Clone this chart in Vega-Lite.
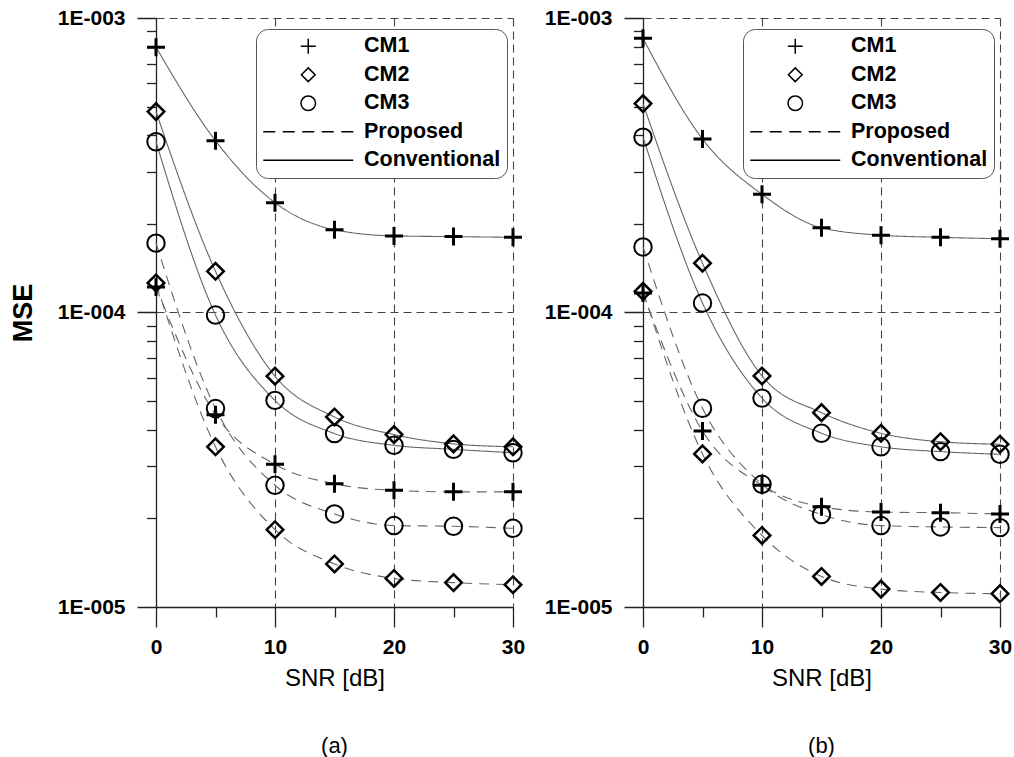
{
  "$schema": "https://vega.github.io/schema/vega-lite/v6.json",
  "padding": {"left": 9, "top": 7, "right": 0, "bottom": 0},
  "background": "white",
  "data": {"values": [
    {"p":"a","m":"Conventional","cm":"CM1","snr":0,"mse":7.96e-4},
    {"p":"a","m":"Conventional","cm":"CM1","snr":5,"mse":3.83e-4},
    {"p":"a","m":"Conventional","cm":"CM1","snr":10,"mse":2.36e-4},
    {"p":"a","m":"Conventional","cm":"CM1","snr":15,"mse":1.91e-4},
    {"p":"a","m":"Conventional","cm":"CM1","snr":20,"mse":1.82e-4},
    {"p":"a","m":"Conventional","cm":"CM1","snr":25,"mse":1.81e-4},
    {"p":"a","m":"Conventional","cm":"CM1","snr":30,"mse":1.80e-4},
    {"p":"a","m":"Conventional","cm":"CM2","snr":0,"mse":4.81e-4},
    {"p":"a","m":"Conventional","cm":"CM2","snr":5,"mse":1.38e-4},
    {"p":"a","m":"Conventional","cm":"CM2","snr":10,"mse":6.08e-5},
    {"p":"a","m":"Conventional","cm":"CM2","snr":15,"mse":4.42e-5},
    {"p":"a","m":"Conventional","cm":"CM2","snr":20,"mse":3.85e-5},
    {"p":"a","m":"Conventional","cm":"CM2","snr":25,"mse":3.58e-5},
    {"p":"a","m":"Conventional","cm":"CM2","snr":30,"mse":3.50e-5},
    {"p":"a","m":"Conventional","cm":"CM3","snr":0,"mse":3.80e-4},
    {"p":"a","m":"Conventional","cm":"CM3","snr":5,"mse":9.8e-5},
    {"p":"a","m":"Conventional","cm":"CM3","snr":10,"mse":5.03e-5},
    {"p":"a","m":"Conventional","cm":"CM3","snr":15,"mse":3.88e-5},
    {"p":"a","m":"Conventional","cm":"CM3","snr":20,"mse":3.54e-5},
    {"p":"a","m":"Conventional","cm":"CM3","snr":25,"mse":3.43e-5},
    {"p":"a","m":"Conventional","cm":"CM3","snr":30,"mse":3.34e-5},
    {"p":"a","m":"Proposed","cm":"CM1","snr":0,"mse":1.22e-4},
    {"p":"a","m":"Proposed","cm":"CM1","snr":5,"mse":4.5e-5},
    {"p":"a","m":"Proposed","cm":"CM1","snr":10,"mse":3.05e-5},
    {"p":"a","m":"Proposed","cm":"CM1","snr":15,"mse":2.62e-5},
    {"p":"a","m":"Proposed","cm":"CM1","snr":20,"mse":2.49e-5},
    {"p":"a","m":"Proposed","cm":"CM1","snr":25,"mse":2.46e-5},
    {"p":"a","m":"Proposed","cm":"CM1","snr":30,"mse":2.46e-5},
    {"p":"a","m":"Proposed","cm":"CM2","snr":0,"mse":1.26e-4},
    {"p":"a","m":"Proposed","cm":"CM2","snr":5,"mse":3.50e-5},
    {"p":"a","m":"Proposed","cm":"CM2","snr":10,"mse":1.83e-5},
    {"p":"a","m":"Proposed","cm":"CM2","snr":15,"mse":1.40e-5},
    {"p":"a","m":"Proposed","cm":"CM2","snr":20,"mse":1.25e-5},
    {"p":"a","m":"Proposed","cm":"CM2","snr":25,"mse":1.21e-5},
    {"p":"a","m":"Proposed","cm":"CM2","snr":30,"mse":1.19e-5},
    {"p":"a","m":"Proposed","cm":"CM3","snr":0,"mse":1.72e-4},
    {"p":"a","m":"Proposed","cm":"CM3","snr":5,"mse":4.72e-5},
    {"p":"a","m":"Proposed","cm":"CM3","snr":10,"mse":2.59e-5},
    {"p":"a","m":"Proposed","cm":"CM3","snr":15,"mse":2.07e-5},
    {"p":"a","m":"Proposed","cm":"CM3","snr":20,"mse":1.89e-5},
    {"p":"a","m":"Proposed","cm":"CM3","snr":25,"mse":1.88e-5},
    {"p":"a","m":"Proposed","cm":"CM3","snr":30,"mse":1.85e-5},
    {"p":"b","m":"Conventional","cm":"CM1","snr":0,"mse":8.53e-4},
    {"p":"b","m":"Conventional","cm":"CM1","snr":5,"mse":3.88e-4},
    {"p":"b","m":"Conventional","cm":"CM1","snr":10,"mse":2.52e-4},
    {"p":"b","m":"Conventional","cm":"CM1","snr":15,"mse":1.94e-4},
    {"p":"b","m":"Conventional","cm":"CM1","snr":20,"mse":1.83e-4},
    {"p":"b","m":"Conventional","cm":"CM1","snr":25,"mse":1.80e-4},
    {"p":"b","m":"Conventional","cm":"CM1","snr":30,"mse":1.78e-4},
    {"p":"b","m":"Conventional","cm":"CM2","snr":0,"mse":5.12e-4},
    {"p":"b","m":"Conventional","cm":"CM2","snr":5,"mse":1.47e-4},
    {"p":"b","m":"Conventional","cm":"CM2","snr":10,"mse":6.09e-5},
    {"p":"b","m":"Conventional","cm":"CM2","snr":15,"mse":4.57e-5},
    {"p":"b","m":"Conventional","cm":"CM2","snr":20,"mse":3.89e-5},
    {"p":"b","m":"Conventional","cm":"CM2","snr":25,"mse":3.64e-5},
    {"p":"b","m":"Conventional","cm":"CM2","snr":30,"mse":3.57e-5},
    {"p":"b","m":"Conventional","cm":"CM3","snr":0,"mse":3.94e-4},
    {"p":"b","m":"Conventional","cm":"CM3","snr":5,"mse":1.077e-4},
    {"p":"b","m":"Conventional","cm":"CM3","snr":10,"mse":5.12e-5},
    {"p":"b","m":"Conventional","cm":"CM3","snr":15,"mse":3.89e-5},
    {"p":"b","m":"Conventional","cm":"CM3","snr":20,"mse":3.50e-5},
    {"p":"b","m":"Conventional","cm":"CM3","snr":25,"mse":3.37e-5},
    {"p":"b","m":"Conventional","cm":"CM3","snr":30,"mse":3.30e-5},
    {"p":"b","m":"Proposed","cm":"CM1","snr":0,"mse":1.165e-4},
    {"p":"b","m":"Proposed","cm":"CM1","snr":5,"mse":3.96e-5},
    {"p":"b","m":"Proposed","cm":"CM1","snr":10,"mse":2.59e-5},
    {"p":"b","m":"Proposed","cm":"CM1","snr":15,"mse":2.19e-5},
    {"p":"b","m":"Proposed","cm":"CM1","snr":20,"mse":2.10e-5},
    {"p":"b","m":"Proposed","cm":"CM1","snr":25,"mse":2.09e-5},
    {"p":"b","m":"Proposed","cm":"CM1","snr":30,"mse":2.07e-5},
    {"p":"b","m":"Proposed","cm":"CM2","snr":0,"mse":1.18e-4},
    {"p":"b","m":"Proposed","cm":"CM2","snr":5,"mse":3.31e-5},
    {"p":"b","m":"Proposed","cm":"CM2","snr":10,"mse":1.75e-5},
    {"p":"b","m":"Proposed","cm":"CM2","snr":15,"mse":1.27e-5},
    {"p":"b","m":"Proposed","cm":"CM2","snr":20,"mse":1.15e-5},
    {"p":"b","m":"Proposed","cm":"CM2","snr":25,"mse":1.12e-5},
    {"p":"b","m":"Proposed","cm":"CM2","snr":30,"mse":1.11e-5},
    {"p":"b","m":"Proposed","cm":"CM3","snr":0,"mse":1.67e-4},
    {"p":"b","m":"Proposed","cm":"CM3","snr":5,"mse":4.73e-5},
    {"p":"b","m":"Proposed","cm":"CM3","snr":10,"mse":2.61e-5},
    {"p":"b","m":"Proposed","cm":"CM3","snr":15,"mse":2.06e-5},
    {"p":"b","m":"Proposed","cm":"CM3","snr":20,"mse":1.89e-5},
    {"p":"b","m":"Proposed","cm":"CM3","snr":25,"mse":1.87e-5},
    {"p":"b","m":"Proposed","cm":"CM3","snr":30,"mse":1.86e-5}
  ]},
  "spacing": 16,
  "hconcat": [
    {
      "width": 357, "height": 589,
      "transform": [{"filter": "datum.p === 'a'"}],
      "title": {"text": "(a)", "orient": "bottom", "frame": "group", "anchor": "middle", "font": "Liberation Sans", "fontSize": 22, "fontWeight": "normal", "color": "black", "offset": 45.5},
      "encoding": {
        "x": {"field": "snr", "type": "quantitative", "scale": {"domain": [0, 30]},
          "axis": {"title": "SNR [dB]", "values": [0,5,10,15,20,25,30],
            "labelExpr": "datum.value % 10 === 0 ? datum.label : ''",
            "tickSize": 20,
            "tickDash": {"condition": {"test": "datum.value % 10 !== 0", "value": [10, 40]}, "value": [1, 0]},
            "gridOpacity": {"condition": {"test": "datum.value % 10 === 0 && datum.value > 0", "value": 1}, "value": 0},
            "labelPadding": 9.5, "titlePadding": 9, "labelFlush": false, "labelOverlap": false}},
        "y": {"field": "mse", "type": "quantitative", "scale": {"type": "log", "domain": [1e-5, 1e-3]},
          "axis": {"title": "MSE", "values": [1e-5,2e-5,3e-5,4e-5,5e-5,6e-5,7e-5,8e-5,9e-5,1e-4,2e-4,3e-4,4e-4,5e-4,6e-4,7e-4,8e-4,9e-4,1e-3],
            "labelExpr": "abs(log(datum.value)/LN10 - round(log(datum.value)/LN10)) < 0.001 ? '1E-00' + (-round(log(datum.value)/LN10)) : ''",
            "tickSize": 19,
            "tickDash": {"condition": {"test": "abs(log(datum.value)/LN10 - round(log(datum.value)/LN10)) > 0.001", "value": [9.5, 40]}, "value": [1, 0]},
            "gridOpacity": {"condition": {"test": "abs(log(datum.value)/LN10 - round(log(datum.value)/LN10)) < 0.001", "value": 1}, "value": 0},
            "labelPadding": 12, "titlePadding": 20, "titleFontSize": 27, "titleFontWeight": "bold", "labelFlush": false, "labelOverlap": false}}
      },
      "layer": [
        {"mark": {"type": "line", "interpolate": "monotone", "stroke": "#666", "strokeWidth": 1.1},
         "encoding": {"detail": {"field": "cm"},
           "strokeDash": {"field": "m", "type": "nominal", "scale": {"domain": ["Proposed", "Conventional"], "range": [[10, 7], [1, 0]]}, "legend": null}}},
        {"mark": {"type": "point", "filled": false, "stroke": "black", "size": 324, "opacity": 1},
         "encoding": {
           "shape": {"field": "cm", "type": "nominal",
             "scale": {"domain": ["CM1", "CM2", "CM3", "Proposed", "Conventional"],
               "range": ["M-1,0H1M0,-1V1", "M-0.92,0L0,-0.92L0.92,0L0,0.92Z", "M0.97,0A0.97,0.97,0,1,1,-0.97,0A0.97,0.97,0,1,1,0.97,0Z", "M-6,0H-4.4M-3.4,0H-1.8M-0.8,0H0.8M1.8,0H3.4M4.4,0H6", "M-6,0H6"]},
             "legend": {"title": null, "orient": "none", "legendX": 100, "legendY": 11,
               "encode": {"symbols": {"update": {
                 "strokeWidth": {"signal": "datum.value === 'CM1' ? 3 : (datum.value === 'CM2' || datum.value === 'CM3') ? 1.7 : 1.2"},
                 "stroke": {"signal": "(datum.value === 'Proposed' || datum.value === 'Conventional') ? '#555' : 'black'"}}}}}},
           "strokeWidth": {"field": "cm", "type": "ordinal", "scale": {"domain": ["CM1", "CM2", "CM3"], "range": [3, 2, 1.5]}, "legend": null}
         }}
      ]
    },
    {
      "width": 357, "height": 589,
      "transform": [{"filter": "datum.p === 'b'"}],
      "title": {"text": "(b)", "orient": "bottom", "frame": "group", "anchor": "middle", "font": "Liberation Sans", "fontSize": 22, "fontWeight": "normal", "color": "black", "offset": 45.5},
      "encoding": {
        "x": {"field": "snr", "type": "quantitative", "scale": {"domain": [0, 30]},
          "axis": {"title": "SNR [dB]", "values": [0,5,10,15,20,25,30],
            "labelExpr": "datum.value % 10 === 0 ? datum.label : ''",
            "tickSize": 20,
            "tickDash": {"condition": {"test": "datum.value % 10 !== 0", "value": [10, 40]}, "value": [1, 0]},
            "gridOpacity": {"condition": {"test": "datum.value % 10 === 0 && datum.value > 0", "value": 1}, "value": 0},
            "labelPadding": 9.5, "titlePadding": 9, "labelFlush": false, "labelOverlap": false}},
        "y": {"field": "mse", "type": "quantitative", "scale": {"type": "log", "domain": [1e-5, 1e-3]},
          "axis": {"title": null, "values": [1e-5,2e-5,3e-5,4e-5,5e-5,6e-5,7e-5,8e-5,9e-5,1e-4,2e-4,3e-4,4e-4,5e-4,6e-4,7e-4,8e-4,9e-4,1e-3],
            "labelExpr": "abs(log(datum.value)/LN10 - round(log(datum.value)/LN10)) < 0.001 ? '1E-00' + (-round(log(datum.value)/LN10)) : ''",
            "tickSize": 19,
            "tickDash": {"condition": {"test": "abs(log(datum.value)/LN10 - round(log(datum.value)/LN10)) > 0.001", "value": [9.5, 40]}, "value": [1, 0]},
            "gridOpacity": {"condition": {"test": "abs(log(datum.value)/LN10 - round(log(datum.value)/LN10)) < 0.001", "value": 1}, "value": 0},
            "labelPadding": 12, "labelFlush": false, "labelOverlap": false}}
      },
      "layer": [
        {"mark": {"type": "line", "interpolate": "monotone", "stroke": "#666", "strokeWidth": 1.1},
         "encoding": {"detail": {"field": "cm"},
           "strokeDash": {"field": "m", "type": "nominal", "scale": {"domain": ["Proposed", "Conventional"], "range": [[10, 7], [1, 0]]}, "legend": null}}},
        {"mark": {"type": "point", "filled": false, "stroke": "black", "size": 324, "opacity": 1},
         "encoding": {
           "shape": {"field": "cm", "type": "nominal",
             "scale": {"domain": ["CM1", "CM2", "CM3", "Proposed", "Conventional"],
               "range": ["M-1,0H1M0,-1V1", "M-0.92,0L0,-0.92L0.92,0L0,0.92Z", "M0.97,0A0.97,0.97,0,1,1,-0.97,0A0.97,0.97,0,1,1,0.97,0Z", "M-6,0H-4.4M-3.4,0H-1.8M-0.8,0H0.8M1.8,0H3.4M4.4,0H6", "M-6,0H6"]},
             "legend": {"title": null, "orient": "none", "legendX": 100, "legendY": 11,
               "encode": {"symbols": {"update": {
                 "strokeWidth": {"signal": "datum.value === 'CM1' ? 3 : (datum.value === 'CM2' || datum.value === 'CM3') ? 1.7 : 1.2"},
                 "stroke": {"signal": "(datum.value === 'Proposed' || datum.value === 'Conventional') ? '#555' : 'black'"}}}}}},
           "strokeWidth": {"field": "cm", "type": "ordinal", "scale": {"domain": ["CM1", "CM2", "CM3"], "range": [3, 2, 1.5]}, "legend": null}
         }}
      ]
    }
  ],
  "resolve": {
    "scale": {"shape": "independent", "strokeDash": "independent", "strokeWidth": "independent"},
    "legend": {"shape": "independent"}
  },
  "config": {
    "view": {"stroke": null},
    "font": "Liberation Sans",
    "axis": {
      "domainColor": "#222", "domainWidth": 1.3,
      "tickColor": "#222", "tickWidth": 1.3,
      "gridColor": "#444", "gridDash": [8, 5], "gridWidth": 1.1,
      "labelFont": "Liberation Sans", "labelFontWeight": "bold", "labelFontSize": 21, "labelColor": "black",
      "titleFont": "Liberation Sans", "titleColor": "black", "titleFontWeight": "normal", "titleFontSize": 24
    },
    "legend": {
      "labelFont": "Liberation Sans", "labelFontWeight": "bold", "labelFontSize": 21.5, "labelColor": "black",
      "symbolSize": 225, "symbolStrokeWidth": 1.5, "symbolType": "circle",
      "padding": 6.5, "cornerRadius": 12, "strokeColor": "#555", "fillColor": "white",
      "rowPadding": 5.5, "symbolOffset": 35, "labelOffset": 45,
      "labelLimit": 300
    }
  }
}
